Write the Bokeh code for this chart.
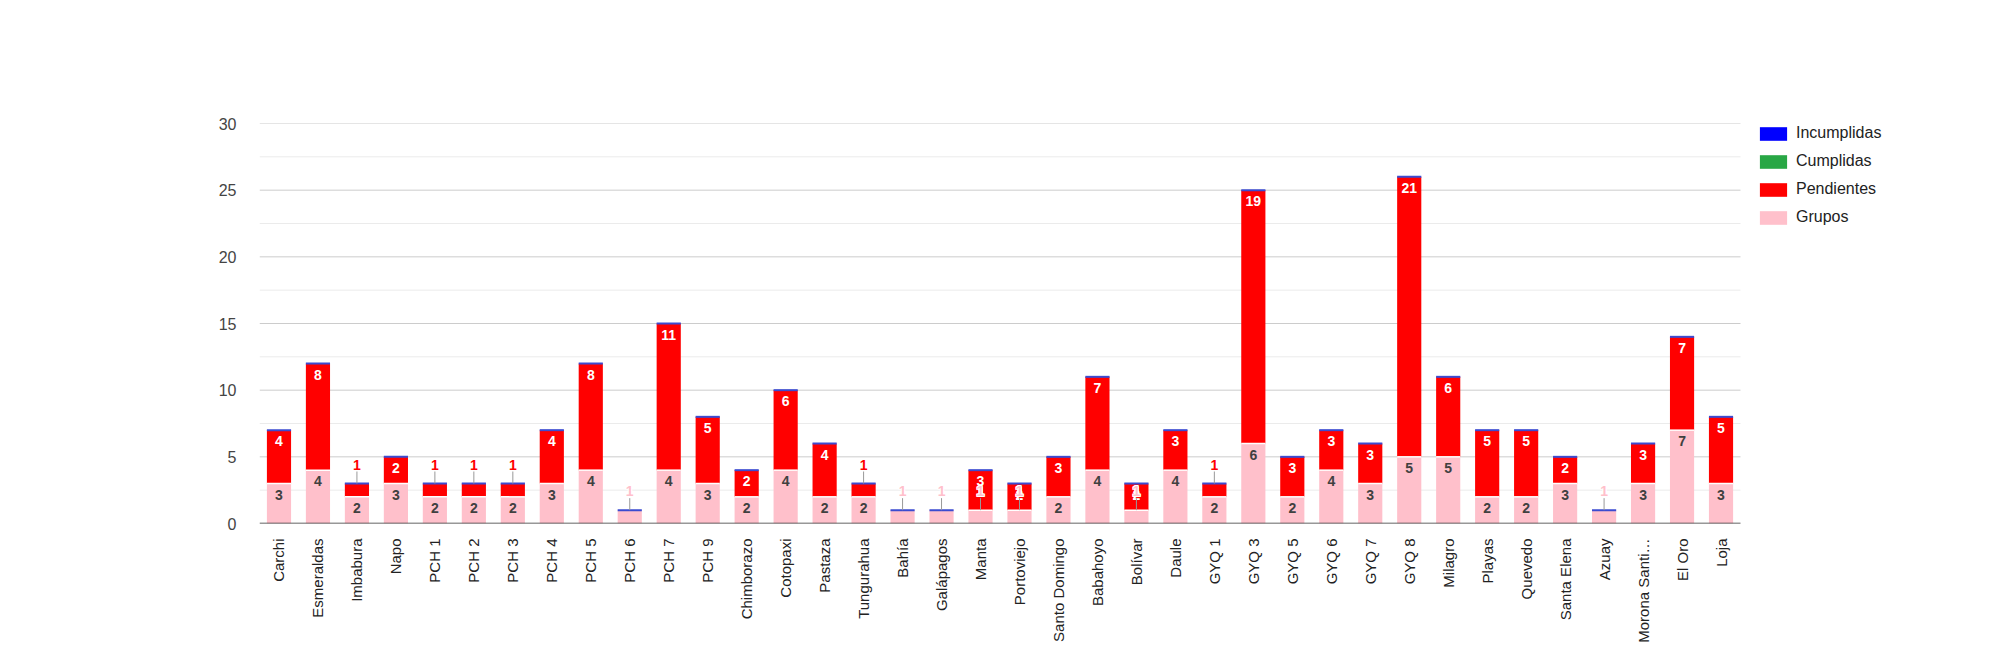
import math
from bokeh.plotting import figure
from bokeh.models import (ColumnDataSource, Range1d, Legend, LegendItem,
                          FixedTicker, CustomJSTickFormatter)
from bokeh.core.properties import value
from bokeh.embed import file_html
from bokeh.resources import INLINE

categories = ["Carchi", "Esmeraldas", "Imbabura", "Napo", "PCH 1", "PCH 2", "PCH 3",
              "PCH 4", "PCH 5", "PCH 6", "PCH 7", "PCH 9", "Chimborazo", "Cotopaxi",
              "Pastaza", "Tungurahua", "Bahía", "Galápagos", "Manta", "Portoviejo",
              "Santo Domingo", "Babahoyo", "Bolívar", "Daule", "GYQ 1", "GYQ 3",
              "GYQ 5", "GYQ 6", "GYQ 7", "GYQ 8", "Milagro", "Playas", "Quevedo",
              "Santa Elena", "Azuay", "Morona Santi…", "El Oro", "Loja"]
grupos = [3, 4, 2, 3, 2, 2, 2, 3, 4, 1, 4, 3, 2, 4, 2, 2, 1, 1, 1, 1,
          2, 4, 1, 4, 2, 6, 2, 4, 3, 5, 5, 2, 2, 3, 1, 3, 7, 3]
pendientes = [4, 8, 1, 2, 1, 1, 1, 4, 8, 0, 11, 5, 2, 6, 4, 1, 0, 0, 3, 2,
              3, 7, 2, 3, 1, 19, 3, 3, 3, 21, 6, 5, 5, 2, 0, 3, 7, 5]
cumplidas = [0] * len(categories)
incumplidas = [0] * len(categories)
y_major = [0, 5, 10, 15, 20, 25, 30]
y_minor = [2.5, 7.5, 12.5, 17.5, 22.5, 27.5]
series_names = ["Incumplidas", "Cumplidas", "Pendientes", "Grupos"]

C_BLUE = "#0000ff"
C_GREEN = "#28a745"
C_RED = "#ff0000"
C_PINK = "#ffc0cb"
FONT = "Liberation Sans"

n = len(categories)
xs = [i + 0.5 for i in range(n)]
g_top = grupos
p_top = [g + pe for g, pe in zip(grupos, pendientes)]
c_top = [t + c for t, c in zip(p_top, cumplidas)]
i_top = [t + i for t, i in zip(c_top, incumplidas)]

src = ColumnDataSource(dict(x=xs, g_top=g_top, p_top=p_top, c_top=c_top,
                            i_top=i_top, zero=[0] * n))

# layout (pixels)
W, H = 1984, 645
BL, BT, BR = 259, 123, 10
PLOT_W = 1481                     # width used by the categories
FRAME_W = W - BL - BR
x_end = n * FRAME_W / PLOT_W

p = figure(x_range=Range1d(0, x_end), y_range=Range1d(0, 30),
           width=W, height=H, output_backend="svg", toolbar_location=None,
           min_border_left=BL, min_border_right=BR, min_border_top=BT,
           min_border_bottom=60)
p.outline_line_color = None
p.background_fill_color = "white"
p.xgrid.grid_line_color = None
p.ygrid.grid_line_color = None

# grid lines only across the category area
p.segment(x0=[0] * len(y_minor), x1=[n] * len(y_minor), y0=y_minor, y1=y_minor,
          line_color="#ebebeb", line_width=1)
p.segment(x0=[0] * (len(y_major) - 1), x1=[n] * (len(y_major) - 1),
          y0=y_major[1:], y1=y_major[1:], line_color="#cccccc", line_width=1)

BW = 0.62
r_g = p.vbar(x="x", bottom="zero", top="g_top", width=BW, source=src,
             fill_color=C_PINK, line_color=None)
r_p = p.vbar(x="x", bottom="g_top", top="p_top", width=BW, source=src,
             fill_color=C_RED, line_color=None)
r_c = p.vbar(x="x", bottom="p_top", top="c_top", width=BW, source=src,
             fill_color=C_GREEN, line_color=None)
r_i = p.vbar(x="x", bottom="c_top", top="i_top", width=BW, source=src,
             fill_color=C_BLUE, line_color=None)
sep_x = [x for x, pe in zip(xs, pendientes) if pe > 0]
sep_y = [g for g, pe in zip(grupos, pendientes) if pe > 0]
p.rect(x=sep_x, y=sep_y, width=BW, height=1.5, height_units="screen",
       fill_color="white", line_color=None)
# thin line marking the (empty) Incumplidas segment on top of each stack
p.rect(x="x", y="i_top", width=BW, height=2, height_units="screen", source=src,
       fill_color="#3b4bd0", line_color=None)

# baseline
p.segment(x0=[0], x1=[n], y0=[0], y1=[0], line_color="#333333", line_width=1.5)

# data labels
in_x, in_y, in_t, in_c = [], [], [], []
out_x, out_y, out_t, out_c = [], [], [], []
segs = [(grupos, [0] * n, C_PINK, "#404040"), (pendientes, grupos, C_RED, "white")]
for vals, bottoms, col, incol in segs:
    for x, v, b in zip(xs, vals, bottoms):
        if v <= 0:
            continue
        top = b + v
        if v >= 2:
            in_x.append(x); in_y.append(top); in_t.append(str(v)); in_c.append(incol)
        else:
            out_x.append(x); out_y.append(top); out_t.append(str(v)); out_c.append(col)

LFS = "14px"
p.text(x=in_x, y=in_y, text=in_t, text_color=in_c, text_font=value(FONT),
       text_font_size=LFS, text_font_style="bold", text_align="center",
       text_baseline="middle", y_offset=11)

p.ray(x=out_x, y=out_y, length=12, length_units="screen", angle=math.pi / 2,
      line_color="#999999", line_width=1)
for dx, dy in [(-1, -1), (0, -1), (1, -1), (-1, 0), (1, 0), (-1, 1), (0, 1), (1, 1)]:
    p.text(x=out_x, y=out_y, text=out_t, text_color="white", text_font=value(FONT),
           text_font_size=LFS, text_font_style="bold", text_align="center",
           text_baseline="middle", x_offset=dx, y_offset=-19 + dy)
p.text(x=out_x, y=out_y, text=out_t, text_color=out_c, text_font=value(FONT),
       text_font_size=LFS, text_font_style="bold", text_align="center",
       text_baseline="middle", y_offset=-19)

# axes
p.yaxis.ticker = FixedTicker(ticks=y_major)
p.yaxis.axis_line_color = None
p.yaxis.major_tick_line_color = None
p.yaxis.minor_tick_line_color = None
p.yaxis.major_label_standoff = 17
p.yaxis.major_label_text_font = FONT
p.yaxis.major_label_text_font_size = "16px"
p.yaxis.major_label_text_color = "#444444"

p.xaxis.ticker = FixedTicker(ticks=xs)
p.xaxis.formatter = CustomJSTickFormatter(args=dict(names=categories),
                                          code="return names[Math.floor(tick)] || '';")
p.xaxis.axis_line_color = None
p.xaxis.major_tick_line_color = None
p.xaxis.minor_tick_line_color = None
p.xaxis.major_label_orientation = math.pi / 2
p.xaxis.major_label_standoff = 9
p.xaxis.major_label_text_font = FONT
p.xaxis.major_label_text_font_size = "15px"
p.xaxis.major_label_text_color = "#222222"

legend = Legend(items=[LegendItem(label=series_names[0], renderers=[r_i]),
                       LegendItem(label=series_names[1], renderers=[r_c]),
                       LegendItem(label=series_names[2], renderers=[r_p]),
                       LegendItem(label=series_names[3], renderers=[r_g])],
                location=(1756 - BL, 297), orientation="vertical",
                glyph_width=34, glyph_height=17, label_height=17, spacing=10,
                label_standoff=6, padding=0, margin=0, border_line_color=None,
                background_fill_alpha=0, label_text_font=FONT,
                label_text_font_size="16px", label_text_color="#222222")
p.add_layout(legend, "center")

open("out.html", "w").write(file_html(p, INLINE))
